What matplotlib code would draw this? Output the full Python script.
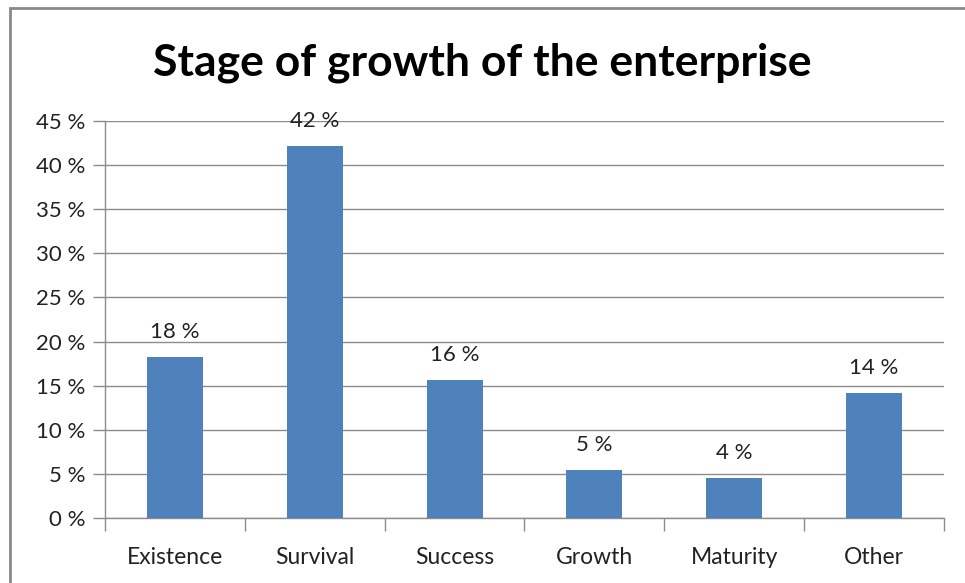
import matplotlib.pyplot as plt
import numpy as np
from matplotlib.patches import Rectangle
from matplotlib.ticker import FixedLocator

stages = ['Existence', 'Survival', 'Success', 'Growth', 'Maturity', 'Other']
shares = [18.2, 42.2, 15.6, 5.4, 4.5, 14.2]
yticks = [0, 5, 10, 15, 20, 25, 30, 35, 40, 45]

plt.rcParams['font.family'] = ['Lato', 'DejaVu Sans']

fig = plt.figure(figsize=(9.65, 5.83), dpi=100)
ax = fig.add_axes([0.1088, 0.1115, 0.8694, 0.681])

x = np.arange(len(stages))
bars = ax.bar(x, shares, width=0.4, color='#4F81BD', zorder=3)

for xi, v in zip(x, shares):
    ax.text(xi, v + 1.7, '{:.0f} %'.format(v), ha='center', va='bottom',
            fontsize=16, color='#222222')

ax.set_xlim(-0.5, len(stages) - 0.5)
ax.set_ylim(0, 45)
ax.set_yticks(yticks)
ax.set_yticklabels(['{} %'.format(t) for t in yticks])
ax.yaxis.grid(True, color='#8c8c8c', linewidth=1.0, zorder=0)

ax.set_xticks(x)
ax.set_xticklabels(stages)
ax.xaxis.set_minor_locator(FixedLocator(np.arange(-0.5, len(stages), 1.0)))
ax.tick_params(axis='x', which='major', length=0, pad=21, labelsize=16.5, colors='#222222')
ax.tick_params(axis='x', which='minor', length=9, width=1.0, color='#8c8c8c')
ax.tick_params(axis='y', length=9, width=1.0, color='#8c8c8c', pad=5,
               labelsize=16, labelcolor='#222222')

for side in ['top', 'right']:
    ax.spines[side].set_visible(False)
for side in ['left', 'bottom']:
    ax.spines[side].set_color('#8c8c8c')
    ax.spines[side].set_linewidth(1.0)

fig.text(0.5, 0.893, 'Stage of growth of the enterprise', ha='center', va='center',
         fontsize=32, fontweight='bold', color='black')

# chart frame, left and top edges only show
fig.patches.append(Rectangle((10 / 965, -0.1), 1.2, 1.1 - 8 / 583, transform=fig.transFigure,
                             fill=False, edgecolor='#8a8a8a', linewidth=2.0))

fig.savefig('out.png', dpi=100)
